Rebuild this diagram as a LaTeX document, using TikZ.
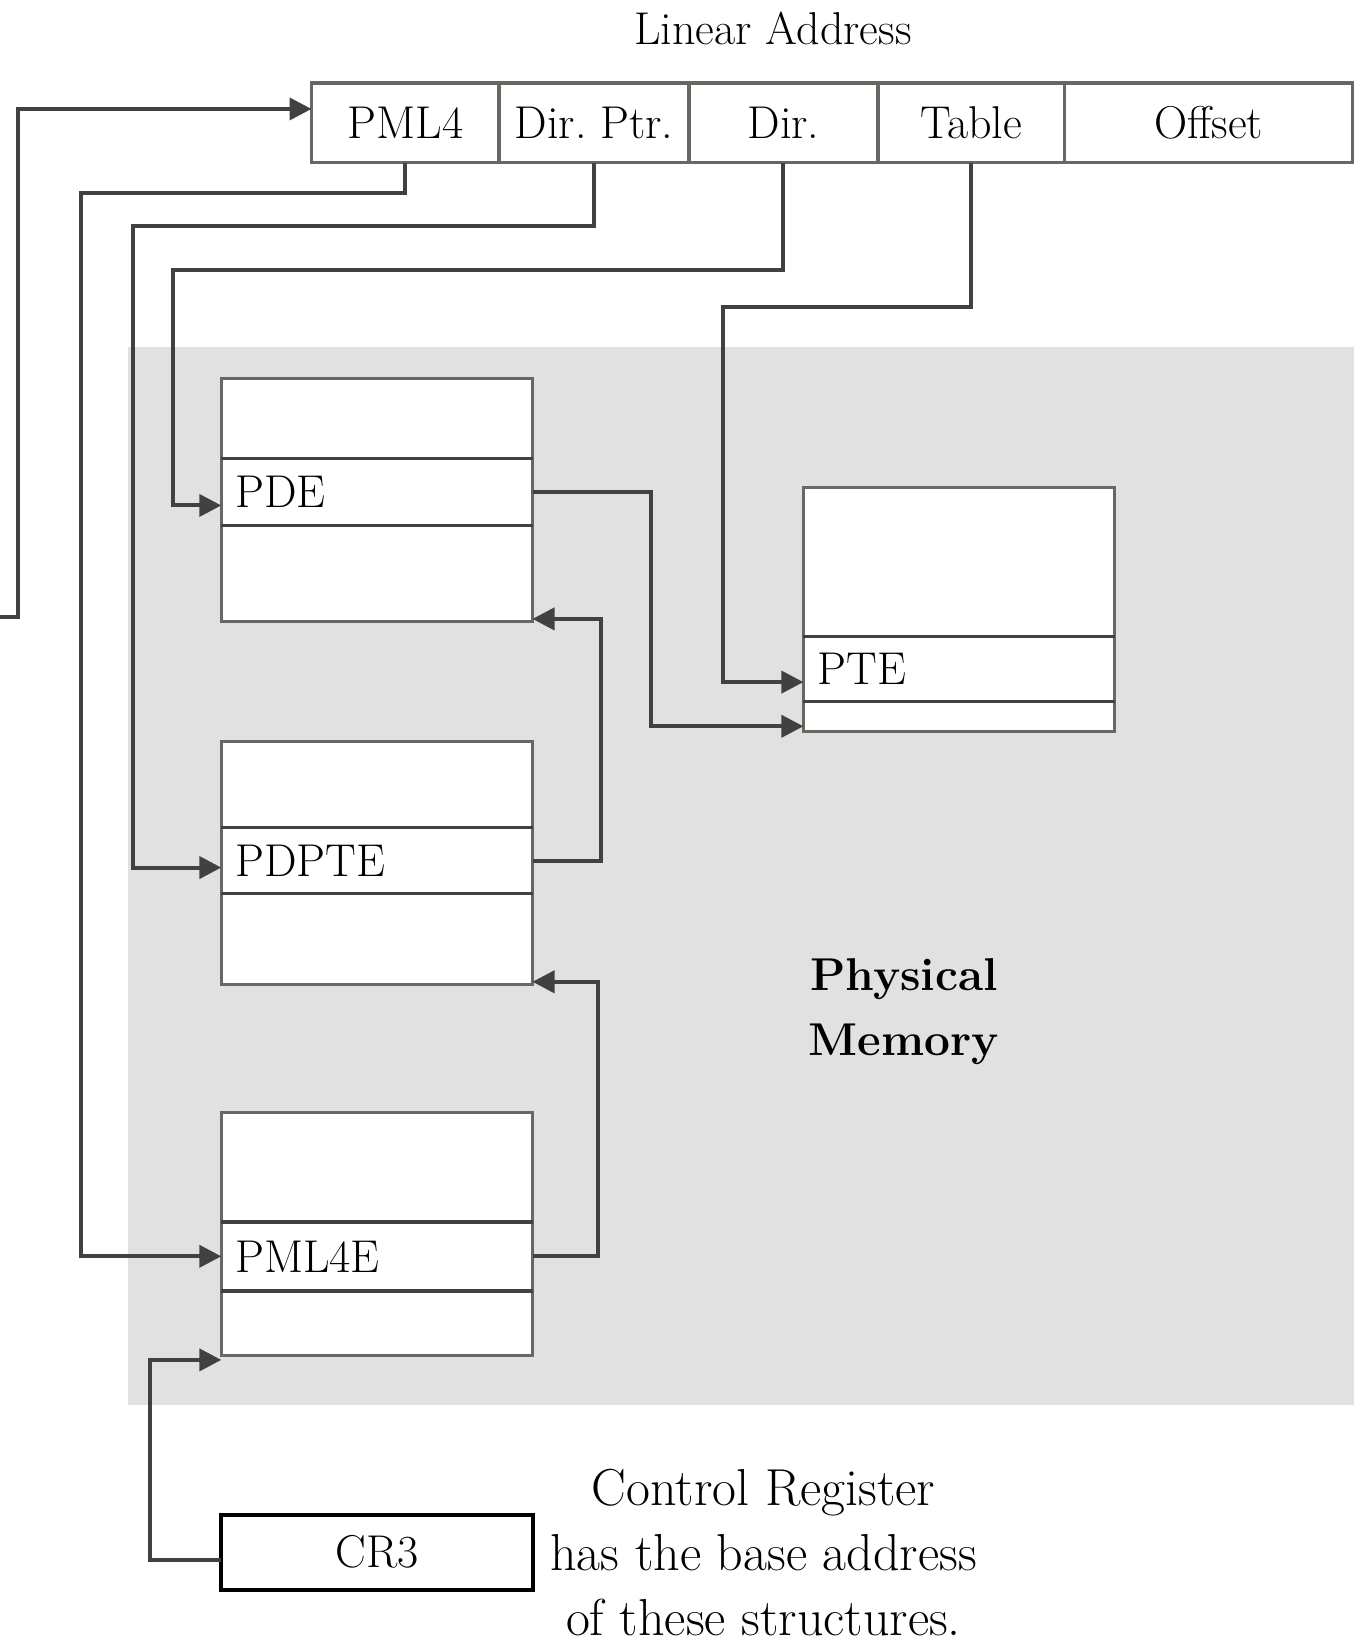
\documentclass[tikz,border=0pt]{standalone}
\usetikzlibrary{positioning,arrows.meta}

\definecolor{memgray}{HTML}{E1E1E1}
\definecolor{boxgray}{HTML}{6A6762}
\definecolor{linkgray}{HTML}{414141}

\tikzset{
  field/.style={draw=boxgray, line width=1.75pt, fill=white, minimum height=39.85pt,
    inner sep=0pt, outer sep=0pt},
  row/.style={draw=boxgray, line width=1.5pt, fill=white, minimum width=155.6pt,
    inner sep=0pt, outer sep=0pt},
  entry/.style={text width=141.6pt, inner xsep=7pt, align=left},
  divider/.style={draw=linkgray, line width=1.75pt},
  link/.style={draw=linkgray, line width=2pt, -{Triangle[length=11pt,width=11pt]}},
}

% one paging structure: name, top left corner, three row heights, entry label
\newcommand\pagetable[6]{%
  \node[row, minimum height=#3, anchor=north west] (#1-top) at #2 {};
  \node[row, entry, minimum height=#4, below=0pt of #1-top.south west, anchor=north west] (#1) {#6};
  \node[row, minimum height=#5, below=0pt of #1.south west, anchor=north west] (#1-bot) {};
  \draw[divider] (#1.north west) -- (#1.north east) (#1.south west) -- (#1.south east);
}

\begin{document}
\frenchspacing
\begin{tikzpicture}[x=0.5pt, y=-0.5pt, font=\fontsize{23}{32.5}\selectfont]
  \useasboundingbox (0,0) rectangle (1354,1644);

  % Physical memory area
  \fill[memgray] (128,347.2) rectangle (1354,1405.4);
  \node[font=\fontsize{23}{32.5}\selectfont\bfseries, align=center] (phys) at (904,1011.6) {Physical\\Memory};

  % Linear address
  \node (title) at (773,28) {Linear Address};
  \node[field, minimum width=93.85pt, anchor=north west] (pml4) at (311.5,82.9) {PML4};
  \node[field, minimum width=94.95pt, right=0pt of pml4] (dirptr) {Dir. Ptr.};
  \node[field, minimum width=94.35pt, right=0pt of dirptr] (dir) {Dir.};
  \node[field, minimum width=93.35pt, right=0pt of dir] (table) {Table};
  \node[field, minimum width=144.25pt, right=0pt of table] (offset) {Offset};

  % Paging structures
  \pagetable{pde}{(221.3,378.6)}{39.85pt}{33.55pt}{48.25pt}{PDE}
  \pagetable{pdpte}{(221.3,741.5)}{43pt}{33.05pt}{45.6pt}{PDPTE}
  \pagetable{pml4e}{(221.3,1112.8)}{54.5pt}{34.5pt}{32.55pt}{PML4E}
  \pagetable{pte}{(803.4,487.7)}{74.45pt}{32.5pt}{14.7pt}{PTE}

  % Control register
  \node[draw=black, line width=2pt, fill=white, minimum width=155.6pt, minimum height=37.75pt,
    inner sep=0pt, outer sep=0pt, anchor=north west] (cr3) at (221.3,1514.5) {CR3};
  \node[align=center, font=\fontsize{26}{32.5}\selectfont] (note) at (763.5,1553) {Control Register\\has the base address\\of these structures.};

  % Links from the address fields
  \coordinate (in) at (0,616.7);
  \draw[link] (in) -- ++(17.8,0) |- ([yshift=6.9pt]pml4.west);
  \draw[link] (pml4.south) |- (80.8,193) |- (pml4e.west);
  \draw[link] (dirptr.south) |- (133.2,225.5) |- ([yshift=-3.5pt]pdpte.west);
  \draw[link] (dir.south) |- (173,269.5) |- ([yshift=-6.8pt]pde.west);
  \draw[link] (table.south) |- (722.6,307.3) |- ([yshift=-6.5pt]pte.west);

  % Links between the structures
  \draw[link] (pde.east) -- ++(118.5,0) |- ([yshift=-5pt]pte-bot.west);
  \draw[link] (pdpte.east) -- ++(68.2,0) |- ([yshift=1.5pt]pde-bot.south east);
  \draw[link] (pml4e.east) -- ++(65,0) |- ([yshift=1.5pt]pdpte-bot.south east);
  \draw[link] ([yshift=-4pt]cr3.west) -- ++(-71.3,0) |- ([yshift=-2pt]pml4e-bot.south west);
\end{tikzpicture}
\end{document}
